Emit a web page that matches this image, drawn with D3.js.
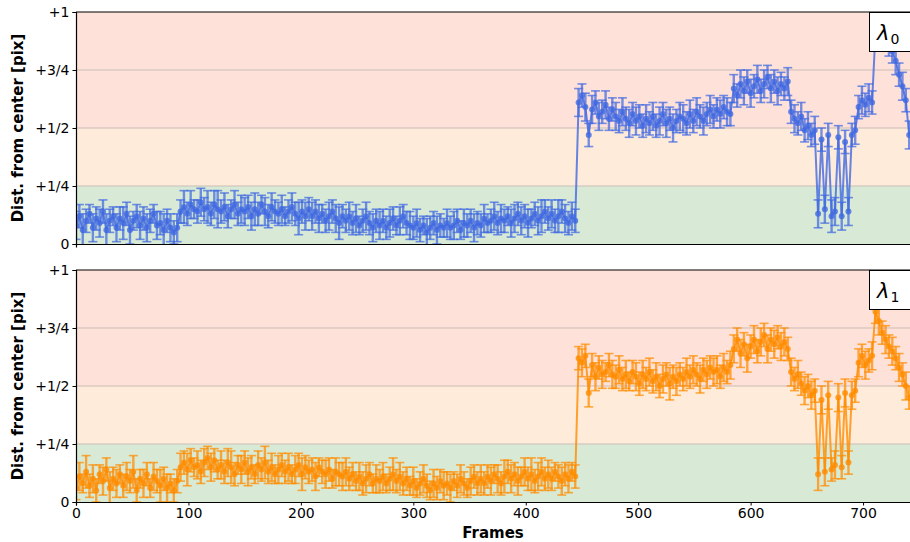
<!DOCTYPE html>
<html>
<head>
<meta charset="utf-8">
<script src="https://cdn.jsdelivr.net/npm/d3@7"></script>
<style>
  body { margin: 0; background: #fff; }
  svg { font-family: "DejaVu Sans", sans-serif; }
</style>
</head>
<body>
<div id="chart"></div>
<script>
// one sample every 3 frames
const frameStep = 3;

const xTicks = [0, 100, 200, 300, 400, 500, 600, 700];
const yTicks = [0, 0.25, 0.5, 0.75, 1];
const yTickLabels = ['0', '+1/4', '+1/2', '+3/4', '+1'];
const bandLimits = [0, 0.25, 0.5, 1];
const gridLevels = [0.25, 0.5, 0.75];

const lambda0 = [
  0.08, 0.12, 0.06, 0.10, 0.13, 0.07, 0.11, 0.09, 0.14, 0.06,
  0.10, 0.12, 0.07, 0.11, 0.09, 0.13, 0.06, 0.10, 0.12, 0.08,
  0.11, 0.07, 0.10, 0.13, 0.08, 0.09, 0.06, 0.10, 0.07, 0.05,
  0.07, 0.14, 0.16, 0.13, 0.17, 0.15, 0.14, 0.18, 0.15, 0.16,
  0.13, 0.17, 0.15, 0.14, 0.16, 0.12, 0.15, 0.17, 0.13, 0.15,
  0.14, 0.16, 0.12, 0.15, 0.13, 0.17, 0.14, 0.12, 0.16, 0.14,
  0.13, 0.15, 0.12, 0.14, 0.16, 0.13, 0.11, 0.14, 0.12, 0.15,
  0.12, 0.14, 0.11, 0.13, 0.10, 0.12, 0.14, 0.11, 0.09, 0.12,
  0.10, 0.12, 0.09, 0.11, 0.08, 0.10, 0.12, 0.09, 0.07, 0.10,
  0.08, 0.10, 0.07, 0.09, 0.11, 0.08, 0.10, 0.12, 0.09, 0.08,
  0.07, 0.09, 0.06, 0.08, 0.05, 0.07, 0.09, 0.06, 0.08, 0.07,
  0.09, 0.07, 0.08, 0.10, 0.06, 0.09, 0.08, 0.10, 0.07, 0.09,
  0.08, 0.11, 0.09, 0.10, 0.12, 0.09, 0.11, 0.10, 0.12, 0.09,
  0.11, 0.13, 0.10, 0.12, 0.09, 0.11, 0.13, 0.10, 0.12, 0.14,
  0.11, 0.13, 0.10, 0.12, 0.14, 0.11, 0.09, 0.12, 0.10, 0.61,
  0.64, 0.59, 0.47, 0.58, 0.61, 0.55, 0.57, 0.60, 0.54, 0.58,
  0.55, 0.53, 0.57, 0.54, 0.52, 0.56, 0.53, 0.55, 0.51, 0.54,
  0.52, 0.55, 0.51, 0.53, 0.56, 0.52, 0.54, 0.50, 0.53, 0.55,
  0.54, 0.52, 0.56, 0.53, 0.57, 0.55, 0.53, 0.56, 0.58, 0.55,
  0.58, 0.56, 0.59, 0.57, 0.56, 0.67, 0.64, 0.69, 0.66, 0.70,
  0.65, 0.68, 0.71, 0.66, 0.69, 0.72, 0.67, 0.70, 0.66, 0.69,
  0.67, 0.70, 0.57, 0.54, 0.52, 0.55, 0.49, 0.51, 0.47, 0.49,
  0.13, 0.45, 0.15, 0.47, 0.12, 0.14, 0.46, 0.12, 0.44, 0.14,
  0.47, 0.49, 0.59, 0.62, 0.60, 0.63, 0.61, 0.91, 0.94, 0.92,
  0.90, 0.87, 0.83, 0.79, 0.73, 0.68, 0.62, 0.47
];
const lambda0Err = [
  0.06, 0.05, 0.07, 0.05, 0.04, 0.06, 0.05, 0.06, 0.05, 0.07,
  0.05, 0.04, 0.06, 0.05, 0.07, 0.05, 0.06, 0.04, 0.05, 0.06,
  0.05, 0.06, 0.05, 0.04, 0.06, 0.05, 0.07, 0.05, 0.06, 0.05,
  0.06, 0.05, 0.07, 0.05, 0.06, 0.04, 0.05, 0.06, 0.05, 0.07,
  0.05, 0.06, 0.08, 0.05, 0.06, 0.05, 0.04, 0.06, 0.05, 0.06,
  0.06, 0.05, 0.06, 0.07, 0.05, 0.04, 0.06, 0.05, 0.06, 0.05,
  0.05, 0.06, 0.04, 0.05, 0.06, 0.05, 0.07, 0.05, 0.06, 0.05,
  0.06, 0.05, 0.06, 0.04, 0.05, 0.06, 0.05, 0.06, 0.07, 0.05,
  0.05, 0.06, 0.05, 0.06, 0.04, 0.05, 0.06, 0.05, 0.06, 0.05,
  0.06, 0.05, 0.05, 0.06, 0.05, 0.04, 0.06, 0.05, 0.05, 0.06,
  0.05, 0.06, 0.05, 0.04, 0.06, 0.05, 0.05, 0.06, 0.05, 0.04,
  0.06, 0.05, 0.06, 0.05, 0.04, 0.06, 0.05, 0.05, 0.06, 0.05,
  0.05, 0.06, 0.04, 0.05, 0.06, 0.05, 0.06, 0.05, 0.04, 0.06,
  0.06, 0.05, 0.06, 0.05, 0.06, 0.04, 0.05, 0.06, 0.07, 0.05,
  0.05, 0.06, 0.05, 0.07, 0.05, 0.06, 0.05, 0.06, 0.05, 0.06,
  0.05, 0.06, 0.05, 0.06, 0.05, 0.06, 0.05, 0.06, 0.05, 0.05,
  0.06, 0.05, 0.06, 0.05, 0.06, 0.05, 0.06, 0.05, 0.05, 0.06,
  0.05, 0.06, 0.05, 0.06, 0.05, 0.06, 0.05, 0.06, 0.05, 0.06,
  0.06, 0.05, 0.06, 0.05, 0.06, 0.05, 0.06, 0.05, 0.06, 0.05,
  0.05, 0.06, 0.05, 0.06, 0.05, 0.06, 0.05, 0.06, 0.06, 0.05,
  0.06, 0.05, 0.06, 0.05, 0.06, 0.05, 0.06, 0.05, 0.06, 0.05,
  0.05, 0.06, 0.05, 0.06, 0.05, 0.06, 0.05, 0.06, 0.05, 0.06,
  0.06, 0.05, 0.06, 0.05, 0.07, 0.06, 0.05, 0.06, 0.05, 0.06,
  0.05, 0.06, 0.05, 0.06, 0.05, 0.06, 0.05, 0.06, 0.05, 0.06,
  0.05, 0.06, 0.05, 0.06, 0.05, 0.06, 0.05, 0.06
];

const lambda1 = [
  0.06, 0.11, 0.08, 0.13, 0.07, 0.10, 0.05, 0.12, 0.09, 0.14,
  0.06, 0.10, 0.08, 0.12, 0.07, 0.11, 0.09, 0.13, 0.05, 0.10,
  0.08, 0.12, 0.06, 0.11, 0.09, 0.07, 0.10, 0.06, 0.08, 0.05,
  0.09, 0.15, 0.17, 0.14, 0.18, 0.15, 0.16, 0.13, 0.17, 0.19,
  0.15, 0.18, 0.14, 0.16, 0.13, 0.17, 0.15, 0.12, 0.16, 0.14,
  0.17, 0.13, 0.15, 0.12, 0.16, 0.14, 0.17, 0.13, 0.15, 0.12,
  0.14, 0.16, 0.13, 0.15, 0.12, 0.14, 0.16, 0.12, 0.15, 0.13,
  0.14, 0.11, 0.15, 0.13, 0.12, 0.14, 0.10, 0.13, 0.12, 0.11,
  0.13, 0.10, 0.12, 0.09, 0.11, 0.08, 0.10, 0.12, 0.08, 0.10,
  0.09, 0.11, 0.08, 0.10, 0.12, 0.09, 0.11, 0.08, 0.10, 0.07,
  0.09, 0.06, 0.08, 0.10, 0.07, 0.05, 0.08, 0.06, 0.09, 0.07,
  0.08, 0.06, 0.09, 0.07, 0.10, 0.08, 0.06, 0.09, 0.11, 0.08,
  0.10, 0.08, 0.11, 0.09, 0.12, 0.10, 0.08, 0.11, 0.13, 0.10,
  0.12, 0.09, 0.11, 0.13, 0.10, 0.12, 0.09, 0.11, 0.13, 0.10,
  0.12, 0.10, 0.13, 0.11, 0.09, 0.12, 0.10, 0.13, 0.11, 0.62,
  0.60, 0.63, 0.47, 0.59, 0.54, 0.58, 0.55, 0.56, 0.59, 0.55,
  0.54, 0.57, 0.53, 0.55, 0.52, 0.56, 0.54, 0.51, 0.55, 0.53,
  0.56, 0.52, 0.54, 0.50, 0.53, 0.55, 0.51, 0.54, 0.52, 0.55,
  0.53, 0.56, 0.54, 0.57, 0.55, 0.53, 0.57, 0.55, 0.58, 0.56,
  0.57, 0.54, 0.58, 0.56, 0.59, 0.66, 0.70, 0.64, 0.68, 0.62,
  0.67, 0.70, 0.65, 0.69, 0.72, 0.66, 0.70, 0.68, 0.71, 0.67,
  0.69, 0.66, 0.56, 0.53, 0.55, 0.51, 0.48, 0.50, 0.46, 0.48,
  0.12, 0.44, 0.13, 0.46, 0.14, 0.16, 0.45, 0.15, 0.47, 0.17,
  0.46, 0.48, 0.60, 0.63, 0.59, 0.61, 0.63, 0.82, 0.78, 0.73,
  0.70, 0.67, 0.65, 0.62, 0.58, 0.55, 0.50, 0.45
];
const lambda1Err = [
  0.05, 0.06, 0.04, 0.07, 0.05, 0.06, 0.05, 0.04, 0.06, 0.05,
  0.07, 0.05, 0.06, 0.04, 0.05, 0.06, 0.05, 0.07, 0.05, 0.04,
  0.06, 0.05, 0.04, 0.06, 0.05, 0.07, 0.05, 0.06, 0.04, 0.05,
  0.05, 0.06, 0.05, 0.07, 0.05, 0.04, 0.06, 0.05, 0.06, 0.05,
  0.06, 0.05, 0.04, 0.06, 0.05, 0.06, 0.07, 0.05, 0.04, 0.06,
  0.05, 0.06, 0.05, 0.04, 0.06, 0.05, 0.07, 0.05, 0.06, 0.04,
  0.06, 0.05, 0.05, 0.06, 0.04, 0.06, 0.05, 0.07, 0.05, 0.05,
  0.05, 0.06, 0.04, 0.05, 0.06, 0.05, 0.04, 0.06, 0.05, 0.06,
  0.06, 0.05, 0.05, 0.04, 0.06, 0.05, 0.06, 0.05, 0.04, 0.06,
  0.05, 0.06, 0.04, 0.05, 0.07, 0.05, 0.06, 0.05, 0.05, 0.04,
  0.06, 0.04, 0.05, 0.06, 0.05, 0.04, 0.06, 0.05, 0.05, 0.06,
  0.05, 0.06, 0.04, 0.05, 0.06, 0.05, 0.04, 0.06, 0.05, 0.05,
  0.06, 0.05, 0.05, 0.06, 0.04, 0.06, 0.05, 0.07, 0.05, 0.06,
  0.05, 0.06, 0.04, 0.06, 0.05, 0.07, 0.05, 0.06, 0.06, 0.05,
  0.06, 0.05, 0.04, 0.05, 0.06, 0.05, 0.06, 0.04, 0.05, 0.05,
  0.06, 0.05, 0.06, 0.05, 0.06, 0.05, 0.06, 0.04, 0.05, 0.06,
  0.05, 0.06, 0.05, 0.06, 0.04, 0.05, 0.06, 0.05, 0.06, 0.05,
  0.06, 0.05, 0.06, 0.05, 0.06, 0.05, 0.07, 0.05, 0.06, 0.05,
  0.05, 0.06, 0.05, 0.06, 0.05, 0.06, 0.05, 0.06, 0.05, 0.06,
  0.06, 0.05, 0.06, 0.05, 0.06, 0.06, 0.05, 0.06, 0.05, 0.06,
  0.05, 0.06, 0.05, 0.06, 0.05, 0.06, 0.05, 0.06, 0.05, 0.06,
  0.06, 0.05, 0.06, 0.05, 0.06, 0.05, 0.06, 0.05, 0.06, 0.05,
  0.07, 0.06, 0.06, 0.06, 0.05, 0.06, 0.06, 0.05, 0.06, 0.05,
  0.06, 0.05, 0.06, 0.05, 0.06, 0.05, 0.06, 0.05, 0.06, 0.05,
  0.06, 0.05, 0.06, 0.05, 0.06, 0.05, 0.06, 0.05
];

const frames = lambda0.map((d, i) => i * frameStep);

const width = 910, height = 542;
const left = 76, right = 910;
const panelHeight = 232;
const bandColors = ['#d8ead6', '#feebd9', '#fee2d9'];

const panels = [
  { sub: '0', values: lambda0, err: lambda0Err, color: '#4169e1', top: 12, showX: false },
  { sub: '1', values: lambda1, err: lambda1Err, color: '#ff8c00', top: 270, showX: true }
];

const svg = d3.select('#chart')
  .append('svg')
  .attr('width', width)
  .attr('height', height);

const x = d3.scaleLinear().domain([0, 742]).range([left, right + 0.3]);

panels.forEach((p, k) => {
  const y = d3.scaleLinear().domain([0, 1]).range([p.top + panelHeight, p.top]);
  const clipId = 'clip' + k;

  svg.append('clipPath').attr('id', clipId)
    .append('rect')
    .attr('x', left).attr('y', p.top)
    .attr('width', right - left).attr('height', panelHeight);

  const g = svg.append('g').attr('clip-path', `url(#${clipId})`);

  // coloured bands
  g.selectAll('.band')
    .data(d3.pairs(bandLimits))
    .enter().append('rect')
    .attr('x', left)
    .attr('width', right - left)
    .attr('y', d => y(d[1]))
    .attr('height', d => y(d[0]) - y(d[1]))
    .attr('fill', (d, i) => bandColors[i]);

  g.selectAll('.grid')
    .data(gridLevels)
    .enter().append('line')
    .attr('x1', left).attr('x2', right)
    .attr('y1', d => y(d)).attr('y2', d => y(d))
    .attr('stroke', '#c9bdb6')
    .attr('stroke-width', 1);

  const pts = frames.map((f, i) => ({ f: f, v: p.values[i], e: p.err[i] }));

  const line = d3.line().x(d => x(d.f)).y(d => y(d.v));
  g.append('path')
    .datum(pts)
    .attr('d', line)
    .attr('fill', 'none')
    .attr('stroke', p.color)
    .attr('stroke-width', 2)
    .attr('stroke-opacity', 0.8);

  const bars = g.append('g')
    .attr('stroke', p.color)
    .attr('stroke-opacity', 0.72);

  bars.selectAll('.eb')
    .data(pts)
    .enter().append('line')
    .attr('stroke-width', 2.4)
    .attr('x1', d => x(d.f)).attr('x2', d => x(d.f))
    .attr('y1', d => y(d.v - d.e)).attr('y2', d => y(d.v + d.e));

  bars.selectAll('.capTop')
    .data(pts)
    .enter().append('line')
    .attr('stroke-width', 1.6)
    .attr('x1', d => x(d.f) - 4.5).attr('x2', d => x(d.f) + 4.5)
    .attr('y1', d => y(d.v + d.e)).attr('y2', d => y(d.v + d.e));

  bars.selectAll('.capBot')
    .data(pts)
    .enter().append('line')
    .attr('stroke-width', 1.6)
    .attr('x1', d => x(d.f) - 4.5).attr('x2', d => x(d.f) + 4.5)
    .attr('y1', d => y(d.v - d.e)).attr('y2', d => y(d.v - d.e));

  g.selectAll('.dot')
    .data(pts)
    .enter().append('circle')
    .attr('cx', d => x(d.f))
    .attr('cy', d => y(d.v))
    .attr('r', 3)
    .attr('fill', p.color)
    .attr('fill-opacity', 0.8);

  // label box
  const box = svg.append('g');
  box.append('rect')
    .attr('x', 869.5).attr('y', p.top + 0.5)
    .attr('width', 60).attr('height', 39)
    .attr('fill', '#fff')
    .attr('stroke', '#000')
    .attr('stroke-width', 1);
  const lbl = box.append('text')
    .attr('x', 877).attr('y', p.top + 28)
    .attr('font-size', 21)
    .attr('fill', '#000');
  lbl.append('tspan').attr('font-style', 'italic').text('λ');
  lbl.append('tspan').attr('font-size', 14).attr('dy', 4).attr('dx', 1).text(p.sub);

  // axes
  const yAxis = d3.axisLeft(y)
    .tickValues(yTicks)
    .tickFormat((d, i) => yTickLabels[i])
    .tickSize(3.5)
    .tickPadding(3);
  const ya = svg.append('g')
    .attr('transform', `translate(${left},0)`)
    .call(yAxis);
  ya.select('.domain').attr('stroke', '#000').attr('stroke-width', 1.2);
  ya.selectAll('text').attr('font-size', 14).attr('font-family', 'DejaVu Sans').attr('fill', '#000');

  svg.append('line')
    .attr('x1', left).attr('x2', right)
    .attr('y1', p.top).attr('y2', p.top)
    .attr('stroke', '#000').attr('stroke-width', 1.2);

  const xAxis = d3.axisBottom(x)
    .tickValues(p.showX ? xTicks : [])
    .tickSize(3.5)
    .tickPadding(3);
  const xa = svg.append('g')
    .attr('transform', `translate(0,${p.top + panelHeight})`)
    .call(xAxis);
  xa.select('.domain').attr('stroke', '#000').attr('stroke-width', 1.2);
  xa.selectAll('text').attr('font-size', 14).attr('font-family', 'DejaVu Sans').attr('fill', '#000');

  svg.append('text')
    .attr('transform', `translate(23,${p.top + panelHeight / 2}) rotate(-90)`)
    .attr('text-anchor', 'middle')
    .attr('font-size', 15)
    .attr('font-weight', 'bold')
    .text('Dist. from center [pix]');
});

svg.append('text')
  .attr('x', 493).attr('y', 538)
  .attr('text-anchor', 'middle')
  .attr('font-size', 15)
  .attr('font-weight', 'bold')
  .text('Frames');
</script>
</body>
</html>
